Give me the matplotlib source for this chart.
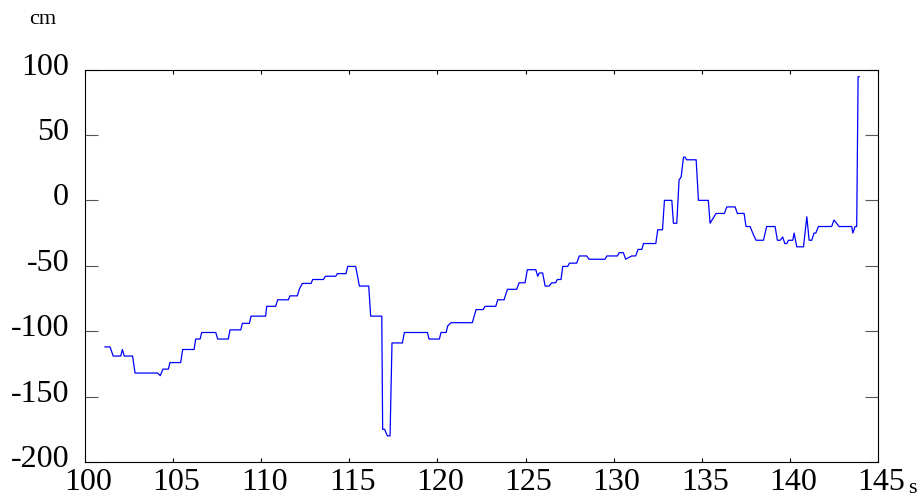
import matplotlib
matplotlib.use("Agg")
import matplotlib.pyplot as plt
import matplotlib.transforms as mtransforms

plt.rcParams['font.family'] = ['Liberation Serif', 'DejaVu Serif']
plt.rcParams['axes.unicode_minus'] = False

# Position trace (time in s, position in cm)
time_s = [
    101.13, 101.42, 101.60, 102.03, 102.12, 102.23, 102.70, 102.84, 104.12, 104.27,
    104.42, 104.73, 104.82, 105.43, 105.54, 106.19, 106.28, 106.53, 106.62, 107.42,
    107.53, 108.13, 108.23, 108.84, 108.93, 109.33, 109.42, 110.25, 110.31, 110.82,
    110.93, 111.54, 111.63, 112.05, 112.16, 112.33, 112.83, 112.92, 113.53, 113.64,
    114.23, 114.32, 114.81, 114.91, 115.36, 115.57, 116.10, 116.21, 116.84, 116.89,
    117.00, 117.16, 117.31, 117.42, 118.01, 118.12, 119.43, 119.52, 120.11, 120.20,
    120.49, 120.58, 120.77, 121.98, 122.19, 122.60, 122.70, 123.31, 123.42, 123.78,
    123.97, 124.50, 124.63, 124.97, 125.10, 125.58, 125.69, 125.78, 125.97, 126.11,
    126.33, 126.49, 126.71, 126.80, 127.01, 127.11, 127.39, 127.49, 127.90, 128.05,
    128.47, 128.60, 129.51, 129.61, 130.21, 130.31, 130.55, 130.68, 131.02, 131.25,
    131.38, 131.60, 131.69, 132.39, 132.50, 132.77, 132.88, 133.30, 133.39, 133.58,
    133.71, 133.83, 133.96, 134.05, 134.14, 134.68, 134.81, 135.37, 135.47, 135.81,
    136.28, 136.42, 136.89, 137.02, 137.40, 137.51, 137.74, 137.89, 138.08, 138.50,
    138.68, 139.16, 139.29, 139.45, 139.59, 139.71, 139.82, 139.92, 140.16, 140.24,
    140.39, 140.77, 140.96, 141.09, 141.24, 141.37, 141.47, 141.62, 142.37, 142.50,
    142.79, 143.51, 143.57, 143.70, 143.79, 143.87, 143.93,
]
position_cm = [
    -112, -112, -119, -119, -114, -119, -119, -132, -132, -134,
    -129, -129, -124, -124, -114, -114, -106, -106, -101, -101,
    -106, -106, -99, -99, -94, -94, -88.5, -88.5, -81, -81,
    -76, -76, -73, -73, -68, -63.5, -63.5, -60.5, -60.5, -58,
    -58, -56, -56, -50.5, -50.5, -65.5, -65.5, -88.5, -88.5, -175,
    -175, -180, -180, -109, -109, -101, -101, -106, -106, -101,
    -101, -96, -93.5, -93.5, -83.5, -83.5, -81, -81, -76, -76,
    -68, -68, -63, -63, -53, -53, -58, -55.5, -55.5, -65.5,
    -65.5, -63, -63, -60.5, -60.5, -50.5, -50.5, -48, -48, -42.5,
    -42.5, -45, -45, -42.5, -42.5, -40, -40, -45, -42.5, -42.5,
    -37.5, -37.5, -33, -33, -22.5, -22.5, 0, 0, -17.5, -17.5,
    15.5, 18, 33, 33, 31, 31, 0, 0, -17.5, -10,
    -10, -5, -5, -10, -10, -20, -20, -25, -30.5, -30.5,
    -20, -20, -30.5, -30.5, -28, -33, -33, -30.5, -30.5, -25,
    -35.5, -35.5, -12.5, -30.5, -30.5, -25, -25, -20, -20, -15,
    -20, -20, -25, -20, -20, 94.5, 94.5,
]

x_ticks = [100, 105, 110, 115, 120, 125, 130, 135, 140, 145]
y_ticks = [-200, -150, -100, -50, 0, 50, 100]

fig = plt.figure(figsize=(9.22, 4.97), dpi=100)
ax = fig.add_axes([0.0922, 0.0704, 0.8601, 0.7897])

ax.plot(time_s, position_cm, color='#0000ff', lw=0.9)

ax.set_xlim(100, 145)
ax.set_ylim(-200, 100)
ax.set_xticks(x_ticks)
ax.set_yticks(y_ticks)
ax.set_xticklabels([str(v) for v in x_ticks])
ax.set_yticklabels([str(v) for v in y_ticks])

for s in ax.spines.values():
    s.set_linewidth(0.8)

ax.tick_params(axis='x', direction='in', length=3, width=0.8,
               top=True, bottom=True, labelsize=23, pad=4)
ax.tick_params(axis='y', direction='in', length=9.5, width=0.8, color='#555555',
               left=True, right=True, labelsize=23, pad=11.5)

# nudge tick labels a little
up = mtransforms.ScaledTranslation(0, 0.06, fig.dpi_scale_trans)
for lab in ax.get_yticklabels():
    lab.set_transform(lab.get_transform() + up)
right = mtransforms.ScaledTranslation(0.03, 0, fig.dpi_scale_trans)
for lab in ax.get_xticklabels():
    lab.set_transform(lab.get_transform() + right)

# unit labels
fig.text(43 / 922, 1 - 19 / 497, 'cm', fontsize=16, ha='center', va='center')
fig.text(908 / 922, 1 - 493 / 497, 's', fontsize=16, ha='left', va='baseline')

fig.savefig('out.png', dpi=100)
